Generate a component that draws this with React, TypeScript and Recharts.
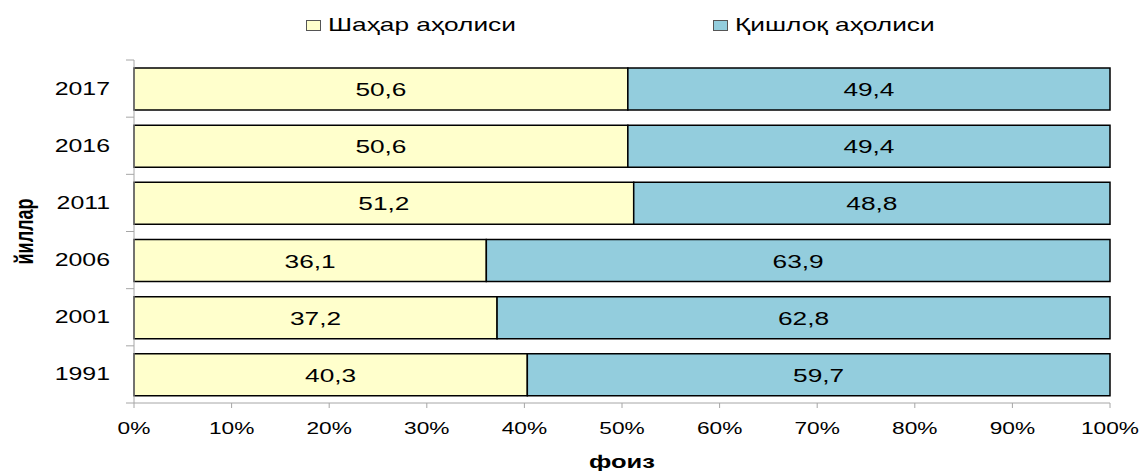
import { BarChart, Bar, XAxis, YAxis, Legend, LabelList, Label } from "recharts";

// years, top to bottom as in the picture
const years = ["2017", "2016", "2011", "2006", "2001", "1991"];
const urban = [50.6, 50.6, 51.2, 36.1, 37.2, 40.3];
const rural = [49.4, 49.4, 48.8, 63.9, 62.8, 59.7];
const percentTicks = [0, 10, 20, 30, 40, 50, 60, 70, 80, 90, 100];
const seriesNames = ["Шаҳар аҳолиси", "Қишлоқ аҳолиси"];
const xTitle = "фоиз";
const yTitle = "йиллар";

const data = years.map((year, i) => ({ year, urban: urban[i], rural: rural[i] }));

const FONT = "'Liberation Sans', Arial, sans-serif";
const SX = 1.42; // the source picture is stretched sideways
const AXIS = "#a6a6a6";

// year label, plus the small tick marks that sit between categories
const YTick = ({ x, y, payload, index }: any) => {
  const axisX = x + 24;
  const half = payload.offset || 28.5;
  return (
    <g>
      <line x1={axisX - 8} x2={axisX} y1={y - half} y2={y - half} stroke={AXIS} />
      {index === years.length - 1 && (
        <line x1={axisX - 8} x2={axisX} y1={y + half} y2={y + half} stroke={AXIS} />
      )}
      <text
        transform={`translate(${x},${y + 6}) scale(${SX},1)`}
        textAnchor="end"
        fontSize={17.5}
        fontFamily={FONT}
        fill="#000"
      >
        {payload.value}
      </text>
    </g>
  );
};

const XTick = ({ x, y, payload }: any) => (
  <text
    transform={`translate(${x},${y + 26}) scale(${SX},1)`}
    textAnchor="middle"
    fontSize={16}
    fontFamily={FONT}
    fill="#000"
  >
    {payload.value}%
  </text>
);

const BarValue = ({ x, y, width, height, value }: any) => (
  <text
    transform={`translate(${x + width / 2},${y + height / 2 + 7}) scale(${SX},1)`}
    textAnchor="middle"
    fontSize={18.5}
    fontFamily={FONT}
    fill="#000"
  >
    {String(value).replace(".", ",")}
  </text>
);

const legendPos = [
  { box: 306, text: 328 },
  { box: 713, text: 735 },
];

const renderLegend = ({ payload }: any) => (
  <div style={{ position: "relative", width: 1144, height: 40, fontFamily: FONT }}>
    {(payload || []).map((p: any, i: number) => (
      <div key={p.value}>
        <div
          style={{
            position: "absolute",
            left: legendPos[i].box,
            top: 20,
            width: 13,
            height: 9,
            background: p.color,
            border: "1px solid #555",
          }}
        />
        <span
          style={{
            position: "absolute",
            left: legendPos[i].text,
            top: 16,
            fontSize: 18.5,
            lineHeight: "18px",
            whiteSpace: "nowrap",
            color: "#000",
            transform: `scaleX(${SX})`,
            transformOrigin: "left",
          }}
        >
          {p.value}
        </span>
      </div>
    ))}
  </div>
);

export default function App() {
  return (
    <div style={{ position: "absolute", left: 0, top: 0, background: "#fff" }}>
      <BarChart
        width={1144}
        height={471}
        data={data}
        layout="vertical"
        margin={{ top: 20, right: 34, bottom: 0, left: 0 }}
      >
        <Legend
          verticalAlign="top"
          content={renderLegend}
          wrapperStyle={{ left: 0, top: 0, width: 1144 }}
        />
        <XAxis
          type="number"
          domain={[0, 100]}
          ticks={percentTicks}
          height={68}
          stroke={AXIS}
          tickSize={5}
          tickMargin={0}
          tick={<XTick />}
          interval={0}
        >
          <Label
            content={({ viewBox }: any) => (
              <text
                transform={`translate(${viewBox.x + viewBox.width / 2},${viewBox.y + 65}) scale(${SX},1)`}
                textAnchor="middle"
                fontSize={18}
                fontWeight="bold"
                fontFamily={FONT}
                fill="#000"
              >
                {xTitle}
              </text>
            )}
          />
        </XAxis>
        <YAxis
          type="category"
          dataKey="year"
          width={134}
          stroke={AXIS}
          tickLine={false}
          tickSize={6}
          tickMargin={18}
          tick={<YTick />}
          interval={0}
        >
          <Label
            content={({ viewBox }: any) => (
              <text
                transform={`translate(33,${viewBox.y + viewBox.height / 2}) scale(${SX},1) rotate(-90)`}
                textAnchor="middle"
                fontSize={18}
                fontWeight="bold"
                fontFamily={FONT}
                fill="#000"
              >
                {yTitle}
              </text>
            )}
          />
        </YAxis>
        <Bar
          dataKey="urban"
          name={seriesNames[0]}
          stackId="a"
          fill="#FFFFCC"
          stroke="#000"
          strokeWidth={1.5}
          barSize={42}
          isAnimationActive={false}
        >
          <LabelList dataKey="urban" content={<BarValue />} />
        </Bar>
        <Bar
          dataKey="rural"
          name={seriesNames[1]}
          stackId="a"
          fill="#93CDDD"
          stroke="#000"
          strokeWidth={1.5}
          barSize={42}
          isAnimationActive={false}
        >
          <LabelList dataKey="rural" content={<BarValue />} />
        </Bar>
      </BarChart>
    </div>
  );
}
